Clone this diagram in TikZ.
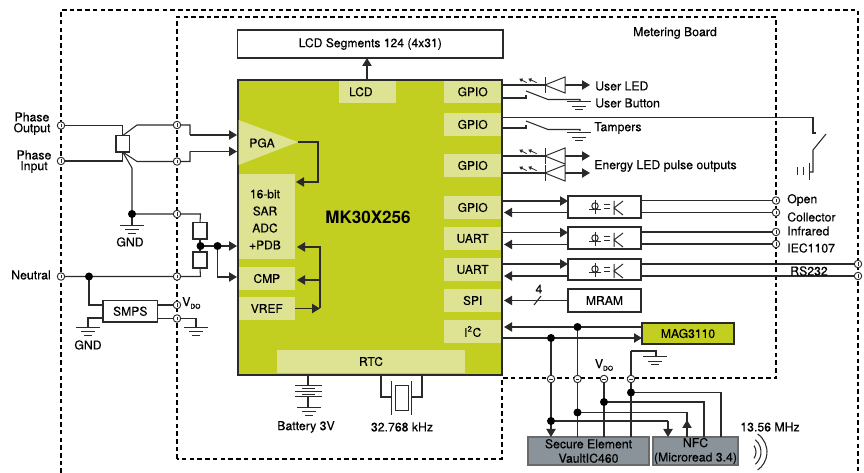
\documentclass[tikz,border=0pt]{standalone}
\usepackage{fontspec}
\setmainfont{TeX Gyre Heros}
\newfontfamily\medf[FakeBold=0.3]{TeX Gyre Heros}
\usetikzlibrary{arrows.meta}
\definecolor{mcugreen}{HTML}{C2CF20}
\definecolor{sublight}{HTML}{DDE393}
\definecolor{boxgray}{HTML}{8A9399}
\definecolor{wirecol}{HTML}{2A2A2A}
\newcommand{\pxbox}[7]{%
  \pgfmathsetmacro\pxW{(#4-#2)*.75}\pgfmathsetmacro\pxH{(#5-#3)*.75}%
  \node[#6,minimum width=\pxW pt,minimum height=\pxH pt,inner sep=0pt,outer sep=0pt,align=center] (#1) at ({(#2+#4)/2},{(#3+#5)/2}) {#7};}
\newcommand{\gndsym}[2]{%
  \draw[symline] (#1-12,#2) -- (#1+12,#2) (#1-7,#2+4.5) -- (#1+7,#2+4.5) (#1-4,#2+8) -- (#1+4,#2+8);}
\newcommand{\ledsym}[1]{%
  \draw[symline] (545,#1-8) -- (545,#1+8);
  \draw[symline] (545,#1) -- (565,#1-8) -- (565,#1+8) -- cycle;
  \draw[raytip] (526.7,#1-2.3) -- (519.3,#1-6.3);
  \draw[raytip] (536.7,#1-2.3) -- (528.3,#1-6.3);}
\newcommand{\optosym}[1]{%
  \draw[symline] (595,#1) circle (3.2);
  \draw[symline] (595,#1-6) -- (595,#1+8) (589,#1+3.5) -- (601,#1+3.5);
  \draw[symline] (604,#1-1) -- (610,#1-1) (604,#1+3) -- (610,#1+3);
  \draw[symline] (614,#1-5) -- (614,#1+9) (623,#1-5) -- (614,#1+2) -- (623,#1+9);}
\newcommand{\switchsym}[2]{%
  \draw[wire] (526,#2) -- (548,#2+8.5) -- (#1,#2+8.5) -- (#1,#2+10);}
\tikzset{
  wire/.style={draw=wirecol,line width=.8pt},
  symline/.style={draw=wirecol,line width=.75pt},
  frame/.style={draw=black,line width=.85pt,dash pattern=on 3.4pt off 2.4pt},
  tip/.style={-{Triangle[length=6pt,width=7pt]}},
  raytip/.style={draw=wirecol,line width=.6pt,-{Triangle[length=2.4pt,width=2.8pt]}},
  dot/.style={circle,fill=black,inner sep=0pt,minimum size=6pt},
  term/.style={circle,draw=wirecol,fill=white,line width=.7pt,inner sep=0pt,minimum size=5.6pt},
  sub/.style={fill=sublight,font=\medf\fontsize{9}{10}\selectfont},
  lbl/.style={font=\medf\fontsize{9.2}{10}\selectfont,inner sep=0pt},
  whitebox/.style={draw=wirecol,fill=white,line width=.9pt,font=\medf\fontsize{9.1}{10}\selectfont},
  graybox/.style={draw=wirecol!70,fill=boxgray,line width=.9pt,font=\medf\fontsize{9.2}{10.8}\selectfont,text=black},
}
\begin{document}
\begin{tikzpicture}[x=.75pt,y=-.75pt]
\useasboundingbox (0,0) rectangle (864,473);
% frames
\draw[frame] (61,473) -- (61,10) -- (858,10) -- (858,473);
\draw[frame] (177,459) -- (177,17) -- (776,17) -- (776,378) -- (502,378) -- (502,459) -- cycle;
% MCU
\pxbox{mcu}{238}{80}{502}{375}{draw=wirecol,fill=mcugreen,line width=1.2pt}{}
\fill[sublight] (238.6,120) -- (298,142) -- (238.6,165) -- cycle;
\node[sub,fill=none] (pga) at (262,143) {PGA};
\pxbox{adc}{238.6}{174}{295}{259}{sub}{}
\node[lbl,font=\medf\fontsize{9}{10}\selectfont] (adc1) at (265,194) {16-bit};
\node[lbl,font=\medf\fontsize{9}{10}\selectfont] (adc2) at (265,211) {SAR};
\node[lbl,font=\medf\fontsize{9}{10}\selectfont] (adc3) at (265,228) {ADC};
\node[lbl,font=\medf\fontsize{9}{10}\selectfont] (adc4) at (265,245) {+PDB};
\pxbox{cmp}{238.6}{267}{295}{290}{sub}{CMP}
\pxbox{vref}{238.6}{297}{295}{320}{sub}{VREF}
\pxbox{lcd}{339}{80.6}{396}{103}{sub}{\hspace*{-10pt}LCD}
\pxbox{gpioa}{444}{80.6}{501.4}{103}{sub}{GPIO}
\pxbox{gpiob}{444}{113}{501.4}{136}{sub}{GPIO}
\pxbox{gpioc}{444}{154}{501.4}{177}{sub}{GPIO}
\pxbox{gpiod}{444}{196}{501.4}{219}{sub}{GPIO}
\pxbox{uarta}{444}{227}{501.4}{250}{sub}{UART}
\pxbox{uartb}{444}{258}{501.4}{281}{sub}{UART}
\pxbox{spi}{444}{289}{501.4}{312}{sub}{SPI}
\pxbox{iic}{444}{320}{501.4}{343}{sub}{I\textsuperscript{2}C}
\pxbox{rtc}{277}{350}{465}{373}{sub}{RTC}
\node[font=\bfseries\fontsize{12.8}{14}\selectfont,inner sep=0pt] (mcuname) at (368,217) {MK30X256};
% boxes
\pxbox{lcdseg}{237.5}{30}{503}{58}{whitebox}{LCD Segments 124 (4x31)}
\pxbox{ct}{116}{135.6}{129.5}{152}{whitebox}{}
\pxbox{ra}{193}{222.5}{207}{239}{whitebox}{}
\pxbox{rb}{193}{252}{207}{268}{whitebox}{}
\pxbox{smps}{103}{300.5}{157.5}{322}{whitebox}{SMPS}
\pxbox{optoa}{568}{196}{641}{218}{whitebox}{}
\pxbox{optob}{568}{227}{641}{249}{whitebox}{}
\pxbox{optoc}{568}{259}{641}{280}{whitebox}{}
\pxbox{mram}{568}{289}{641}{312}{whitebox}{MRAM}
\pxbox{mag}{642}{323}{734}{344}{whitebox,fill=mcugreen}{MAG3110}
\pxbox{secure}{528}{437}{649}{465}{graybox}{Secure Element\\VaultIC460}
\pxbox{nfc}{653}{437}{738}{465}{graybox}{NFC\\(Microread 3.4)}
% named connection points
\foreach \n/\x/\y in {tpo/61/125.5,tpi/61/161,tn/61/276.5,ta/177/125,tb/177/161.5,tc/177/214,td/177/276.5,te/177/305,tf/177/318.5,
  oa/776/200.5,ob/776/212.5,oc/776/232,od/776/244,oe/858/264,of/858/276,
  bi/551/379,bj/577.5/379,bk/604/379,bl/631/379}
  {\coordinate (\n) at (\x,\y);}
\foreach \n/\x/\y in {ja/132/214,jb/200.5/246,jc/217.5/246,jd/89/276.5,je/551/338,jf/577.5/327,jg/631/392.5,jh/604/402,ji/577.5/412.5,jj/551/421}
  {\coordinate (\n) at (\x,\y);}
\coordinate (ctt) at (122.7,135.6);
\coordinate (ctb) at (122.7,152);
% front-end wires
\draw[wire] (tpo) -- (122.7,125.5) -- (ctt);
\draw[wire] (tpi) -- (122.7,161) -- (ctb);
\draw[wire] (ctt) -- (137,125) -- (ta) -- (190,125) -- (190,135);
\draw[wire,tip] (190,135) -- (237,135);
\draw[wire] (ctb) -- (137,161.5) -- (tb) -- (190,161.5) -- (190,151.5);
\draw[wire,tip] (190,151.5) -- (237,151.5);
\draw[wire] (ctb) -- (132,168) -- (ja);
\draw[wire] (ja) -- (132,225);
\gndsym{132}{225.5}
\draw[wire] (ja) -- (tc) -- (200.5,214) -- (ra.north);
\draw[wire] (ra.south) -- (rb.north);
\draw[wire] (tn) -- (td) -- (200.5,276.5) -- (rb.south);
\draw[wire,tip] (jb) -- (237,246);
\draw[wire,tip] (jc) -- (217.5,277) -- (237,277);
% SMPS wires
\draw[wire] (jd) -- (89,305) -- (smps.west |- 0,305);
\draw[wire] (smps.west |- 0,318) -- (88,318) -- (88,327);
\gndsym{88}{327.5}
\draw[wire] (smps.east |- 0,305) -- (te);
\draw[wire] (smps.east |- 0,318.5) -- (tf) -- (196,318.5) -- (196,327);
\gndsym{196}{327.5}
% internal MCU wires
\draw[wire,tip] (298,142) -- (318,142) -- (318,182) -- (296,182);
\draw[wire,tip] (vref.east) -- (320,308.5);
\draw[wire,tip] (320,308.5) -- (320,247) -- (297,247);
\draw[wire,tip] (320,280) -- (297,280);
% LCD
\draw[wire,tip] (367,80) -- (lcdseg.south -| 367,0);
% GPIO outputs
\draw[wire] (502,85) -- (545,85);
\draw[wire,tip] (565,85) -- (590,85);
\ledsym{85}
\draw[wire] (502,98) -- (526,98) -- (526,95);
\switchsym{580}{91}
\gndsym{579}{102}
\draw[wire] (502,117.5) -- (813,117.5) -- (813,133) -- (816,133);
\draw[wire] (826,134) -- (813,150) -- (813,172) -- (809,172);
\draw[symline] (809,163) -- (809,180) (803,167) -- (803,175) (797,167) -- (797,175);
\draw[wire] (502,128) -- (526,128) -- (526,125);
\switchsym{580}{121}
\gndsym{579}{132.7}
\draw[wire] (502,156) -- (545,156);
\draw[wire,tip] (565,156) -- (590,156);
\ledsym{156}
\draw[wire] (502,173) -- (545,173);
\draw[wire,tip] (565,173) -- (590,173);
\ledsym{173}
% opto links
\draw[wire,tip] (502,201) -- (optoa.west |- 0,201);
\draw[wire,tip] (optoa.west |- 0,212.5) -- (504,212.5);
\draw[wire] (optoa.east |- oa) -- (oa);
\draw[wire] (optoa.east |- ob) -- (ob);
\optosym{206}
\draw[wire,tip] (502,232.5) -- (optob.west |- 0,232.5);
\draw[wire,tip] (optob.west |- 0,244.5) -- (504,244.5);
\draw[wire] (optob.east |- oc) -- (oc);
\draw[wire] (optob.east |- od) -- (od);
\optosym{238}
\draw[wire,tip] (502,264) -- (optoc.west |- 0,264);
\draw[wire,tip] (optoc.west |- 0,276) -- (504,276);
\draw[wire] (optoc.east |- oe) -- (oe);
\draw[wire] (optoc.east |- of) -- (of);
\optosym{269}
% MRAM
\draw[wire,tip] (mram.west) -- (504,300.5);
\draw[wire] (534,305) -- (541,296);
\node[lbl] (four) at (539,289) {4};
% I2C
\draw[wire,tip] (mag.west |- 0,327) -- (504,327);
\draw[wire,tip] (502,338) -- (mag.west |- 0,338);
\draw[wire,tip] (je) -- (551,437);
\draw[wire] (jf) -- (577.5,437);
\draw[wire] (bk) -- (604,437);
\draw[wire] (631,351) -- (631,437);
\draw[wire] (631,351) -- (656,351) -- (656,357);
\gndsym{655}{357}
\draw[wire] (jg) -- (721,392.5) -- (721,437);
\draw[wire] (jh) -- (704,402) -- (704,437);
\draw[wire] (ji) -- (687,412.5) -- (687,425);
\draw[wire,tip] (687,437) -- (687,420);
\draw[wire] (jj) -- (668,421);
\draw[wire,tip] (668,421) -- (668,437);
% waves
\draw[wire] (745,452) ++(-35:11) arc (-35:35:11);
\draw[wire] (745,452) ++(-50:16) arc (-50:50:16);
\draw[wire] (745,452) ++(-55:22) arc (-55:55:22);
% battery
\draw[wire] (308,375) -- (308,386);
\draw[symline] (295,386) -- (322,386) (302,389) -- (315,389) (295,392) -- (322,392) (302,395) -- (315,395) (295,396.5) -- (322,396.5);
\draw[wire] (308,396.5) -- (308,408);
\draw[symline] (297,408) -- (321,408) (302,412) -- (316,412) (305,416) -- (313,416);
% crystal
\draw[wire] (381,375) -- (381,397) -- (391,397);
\draw[wire] (422,375) -- (422,397) -- (411,397);
\draw[symline] (391,381) -- (391,415) (411,381) -- (411,415);
\draw[symline] (395,386) rectangle (408,411);
% terminals
\foreach \n in {tpo,tpi,tn,ta,tb,tc,td,te,tf,oa,ob,oc,od,oe,of,bi,bj,bk,bl}
  {\node[term] (\n-m) at (\n) {};}
\foreach \n in {tpo,tpi,tn,ta,tb,tc,td,te,tf,oa,ob,oc,od,oe,of}
  {\draw[draw=wirecol,line width=.6pt] ([yshift=-1.2pt]\n) -- ([yshift=1.2pt]\n);}
\foreach \n in {bi,bj,bk,bl}
  {\draw[draw=wirecol,line width=.6pt] ([xshift=-1.2pt]\n) -- ([xshift=1.2pt]\n);}
% dots
\foreach \n in {ja,jb,jc,jd,je,jf,jg,jh,ji,jj}
  {\node[dot] (\n-m) at (\n) {};}
% labels
\node[lbl] (metering) at (675,33) {Metering Board};
\node[lbl] (po1) at (32,117) {Phase};
\node[lbl] (po2) at (32,129) {Output};
\node[lbl] (pi1) at (34,155) {Phase};
\node[lbl] (pi2) at (34,167) {Input};
\node[lbl] (neutral) at (31,275) {Neutral};
\node[lbl] (gnda) at (130,242) {GND};
\node[lbl] (gndb) at (88,345) {GND};
\node[lbl,anchor=west] (vdoa) at (182,303) {V\raisebox{-2pt}{\fontsize{5}{5}\selectfont DO}};
\node[lbl] (vdob) at (604,365) {V\raisebox{-2pt}{\fontsize{5}{5}\selectfont DO}};
\node[lbl,anchor=west] (ulbl) at (595,86) {User LED};
\node[lbl,anchor=west] (ubtn) at (595,103) {User Button};
\node[lbl,anchor=west] (tamp) at (594,128) {Tampers};
\node[lbl,anchor=west] (elbl) at (594,166) {Energy LED pulse outputs};
\node[lbl,anchor=west] (open) at (787,200) {Open};
\node[lbl,anchor=west] (coll) at (787,217) {Collector};
\node[lbl,anchor=west] (infr) at (787,231) {Infrared};
\node[lbl,anchor=west] (iec) at (787,248) {IEC1107};
\node[lbl] (rs) at (809,271) {RS232};
\node[lbl] (batt) at (306,427) {Battery 3V};
\node[lbl] (xtal) at (402,427) {32.768 kHz};
\node[lbl] (mhz) at (770,427) {13.56 MHz};
\end{tikzpicture}
\end{document}
